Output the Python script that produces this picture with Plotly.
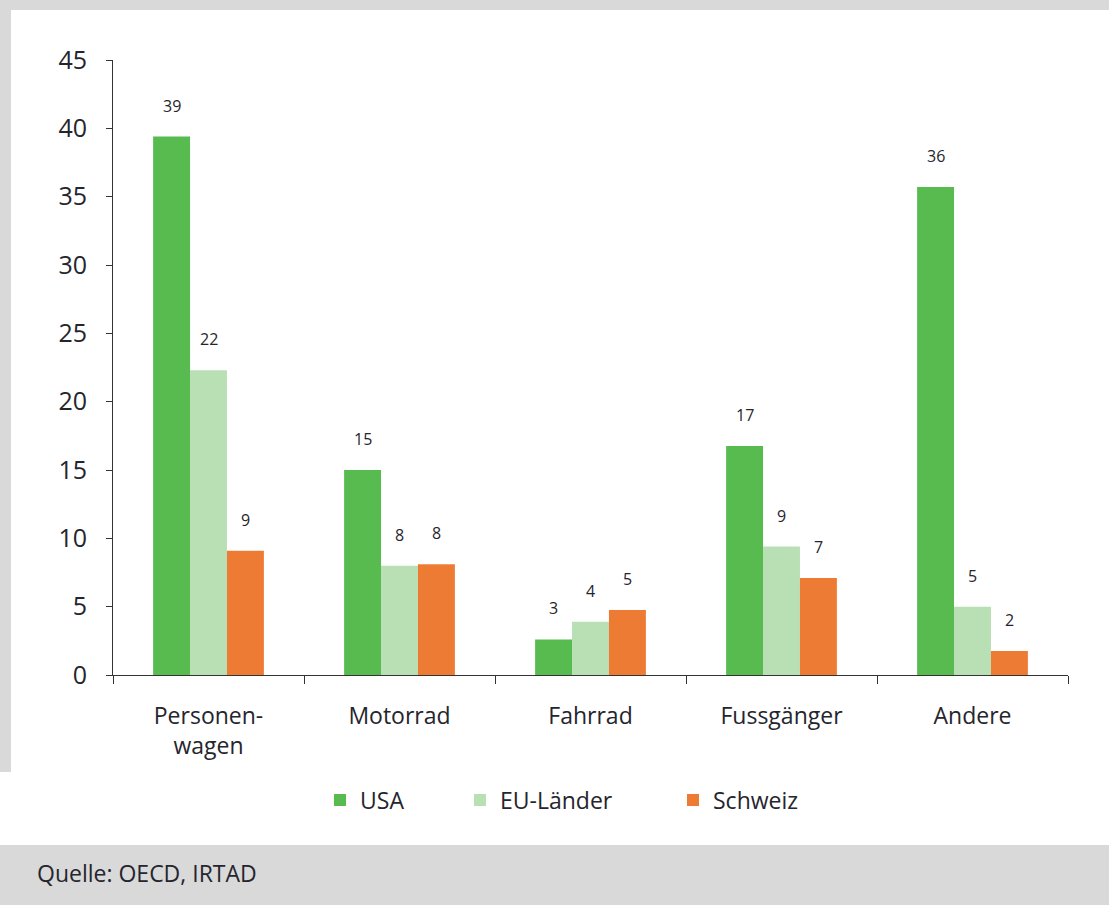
import plotly.graph_objects as go

categories = ["Personen-<br>wagen", "Motorrad", "Fahrrad", "Fussgänger", "Andere"]
usa = [39.4, 15.0, 2.6, 16.75, 35.7]
eu = [22.3, 8.0, 3.9, 9.4, 5.0]
ch = [9.1, 8.1, 4.75, 7.1, 1.75]
usa_labels = ["39", "15", "3", "17", "36"]
eu_labels = ["22", "8", "4", "9", "5"]
ch_labels = ["9", "8", "5", "7", "2"]
series_names = ["USA", "EU-Länder", "Schweiz"]
colors = ["#57bb50", "#b9dfb4", "#ee7b34"]
y_ticks = [0, 5, 10, 15, 20, 25, 30, 35, 40, 45]

W, H = 1109, 905
L, R, T, B = 113, 1068, 60, 675
FONT = "Open Sans"
TXT = "#25252d"
GRAY = "#d9d9d9"

def px(x):
    return (x - L) / (R - L)

def py(y):
    return (B - y) / (B - T)

fig = go.Figure()
legend_ids = ["legend", "legend2", "legend3"]
for vals, name, col, lg in zip([usa, eu, ch], series_names, colors, legend_ids):
    fig.add_trace(go.Bar(x=categories, y=vals, name=name, marker_color=col,
                         marker_line_width=0, legend=lg, showlegend=True))

annotations = []
offsets = [-1, 0, 1]
for vals, labs, off in zip([usa, eu, ch], [usa_labels, eu_labels, ch_labels], offsets):
    for i, (v, t) in enumerate(zip(vals, labs)):
        annotations.append(dict(x=i, y=v, xref="x", yref="y", text=t, showarrow=False,
                                xanchor="center", yanchor="bottom", yshift=18,
                                xshift=off * 37,
                                font=dict(family=FONT, size=16, color=TXT)))

annotations.append(dict(x=px(35), y=py(873), xref="paper", yref="paper",
                        text="Quelle: OECD, IRTAD", showarrow=False,
                        xanchor="left", yanchor="middle",
                        font=dict(family=FONT, size=23, color=TXT)))

shapes = [
    dict(type="rect", xref="paper", yref="paper", x0=px(0), x1=px(W), y0=py(10), y1=py(0),
         fillcolor=GRAY, line_width=0, layer="below"),
    dict(type="rect", xref="paper", yref="paper", x0=px(0), x1=px(11), y0=py(772), y1=py(10),
         fillcolor=GRAY, line_width=0, layer="below"),
    dict(type="rect", xref="paper", yref="paper", x0=px(0), x1=px(W), y0=py(H), y1=py(845),
         fillcolor=GRAY, line_width=0, layer="below"),
]

leg_common = dict(orientation="h", yanchor="middle", y=py(800), xanchor="left",
                  font=dict(family=FONT, size=23, color=TXT), bgcolor="rgba(0,0,0,0)",
                  borderwidth=0, visible=True)

fig.update_layout(
    width=W, height=H,
    margin=dict(l=L, r=W - R, t=T, b=H - B),
    paper_bgcolor="white", plot_bgcolor="rgba(0,0,0,0)",
    showlegend=True,
    barmode="group", bargap=0.42, bargroupgap=0,
    font=dict(family=FONT, color=TXT),
    annotations=annotations, shapes=shapes,
    legend=dict(x=px(320), **leg_common),
    legend2=dict(x=px(460), **leg_common),
    legend3=dict(x=px(673), **leg_common),
    xaxis=dict(range=[-0.5, 4.5], showline=True, linecolor="#333333", linewidth=1,
               ticks="outside", tickson="boundaries", ticklen=8, tickcolor="#333333",
               tickfont=dict(family=FONT, size=23, color=TXT), showgrid=False,
               ticklabelstandoff=20),
    yaxis=dict(range=[0, 45], tickvals=y_ticks, showline=True, linecolor="#333333",
               linewidth=1, ticks="outside", ticklen=6, tickcolor="#333333",
               tickfont=dict(family=FONT, size=25, color=TXT), showgrid=False,
               zeroline=False, ticklabelstandoff=14),
)

fig.write_html("out.html")
